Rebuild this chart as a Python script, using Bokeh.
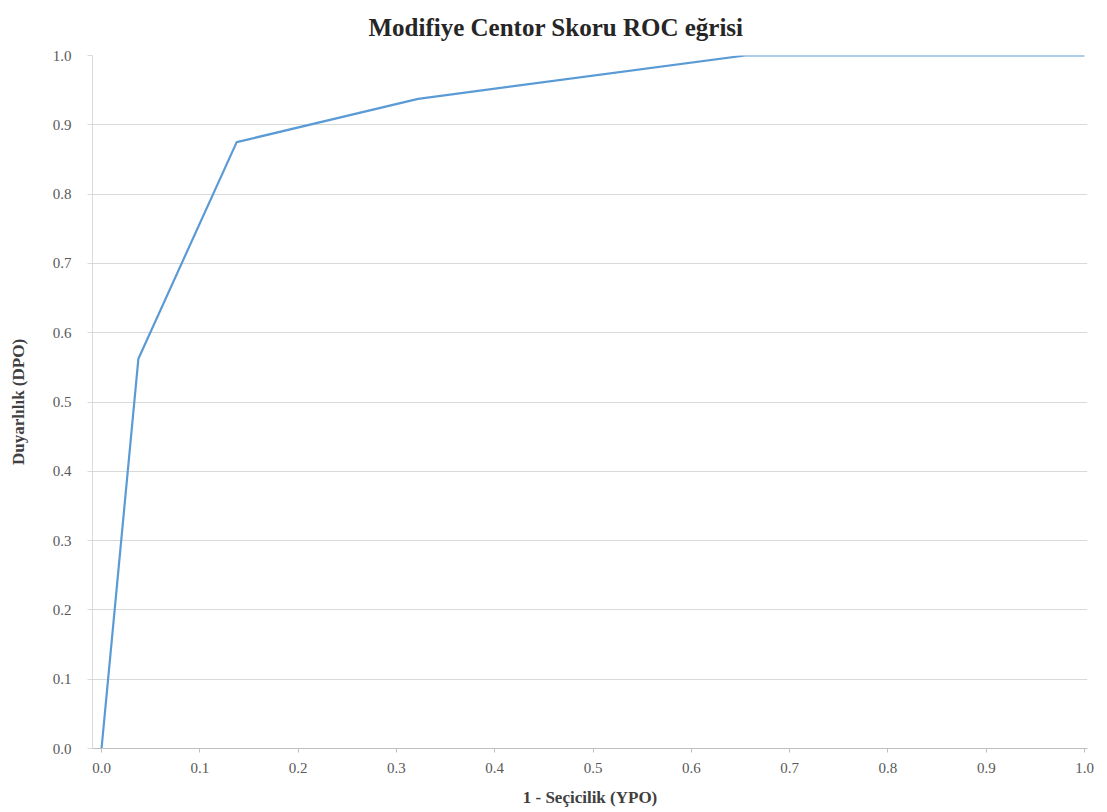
from bokeh.plotting import figure
from bokeh.models import Range1d, FixedTicker, NumeralTickFormatter, Title
from bokeh.embed import file_html
from bokeh.resources import INLINE

# ROC curve points: false positive rate (1 - specificity) vs sensitivity
fpr = [0.0, 0.0125, 0.0375, 0.1375, 0.322, 0.655, 1.0]
tpr = [0.0, 0.1875, 0.5625, 0.875, 0.9375, 1.0, 1.0]

x_ticks = [0.0, 0.1, 0.2, 0.3, 0.4, 0.5, 0.6, 0.7, 0.8, 0.9, 1.0]
y_ticks = [0.0, 0.1, 0.2, 0.3, 0.4, 0.5, 0.6, 0.7, 0.8, 0.9, 1.0]

title_text = "Modifiye Centor Skoru ROC eğrisi"
x_label = "1 - Seçicilik (YPO)"
y_label = "Duyarlılık (DPO)"

SERIF = "Liberation Serif"

p = figure(width=1107, height=812, output_backend="svg", toolbar_location=None,
           x_range=Range1d(-0.0092, 1.003), y_range=Range1d(0.0, 1.0),
           min_border_left=92, min_border_right=20, min_border_top=55,
           min_border_bottom=64)
# title centred over the whole canvas rather than the plot frame
p.title = Title(text=title_text, align="left", offset=276, standoff=25,
                vertical_align="top",
                text_font=SERIF, text_font_size="25px", text_font_style="bold",
                text_color="#262626")
p.outline_line_color = None
p.background_fill_color = "white"
p.border_fill_color = "white"

p.line(fpr, tpr, line_color="#5b9bd5", line_width=2.2)

# grid: horizontal lines only
p.xgrid.grid_line_color = None
p.ygrid.grid_line_color = "#d9d9d9"
p.ygrid.grid_line_width = 1

# x axis
p.xaxis.ticker = FixedTicker(ticks=x_ticks)
p.xaxis.formatter = NumeralTickFormatter(format="0.0")
p.xaxis.axis_line_color = "#bfbfbf"
p.xaxis.major_tick_line_color = "#bfbfbf"
p.xaxis.major_tick_out = 4
p.xaxis.major_tick_in = 0
p.xaxis.minor_tick_line_color = None
p.xaxis.major_label_text_font = SERIF
p.xaxis.major_label_text_font_size = "15px"
p.xaxis.major_label_text_color = "#595959"
p.xaxis.major_label_standoff = 10
p.xaxis.axis_label = x_label
p.xaxis.axis_label_text_font = SERIF
p.xaxis.axis_label_text_font_size = "17px"
p.xaxis.axis_label_text_font_style = "bold"
p.xaxis.axis_label_text_color = "#404040"
p.xaxis.axis_label_standoff = 12

# y axis
p.yaxis.ticker = FixedTicker(ticks=y_ticks)
p.yaxis.formatter = NumeralTickFormatter(format="0.0")
p.yaxis.axis_line_color = "#d9d9d9"
p.yaxis.major_tick_line_color = "#d9d9d9"
p.yaxis.major_tick_out = 5
p.yaxis.major_tick_in = 0
p.yaxis.minor_tick_line_color = None
p.yaxis.major_label_text_font = SERIF
p.yaxis.major_label_text_font_size = "15px"
p.yaxis.major_label_text_color = "#595959"
p.yaxis.major_label_standoff = 16
p.yaxis.axis_label = y_label
p.yaxis.axis_label_text_font = SERIF
p.yaxis.axis_label_text_font_size = "17px"
p.yaxis.axis_label_text_font_style = "bold"
p.yaxis.axis_label_text_color = "#404040"
p.yaxis.axis_label_standoff = 22

open("out.html", "w").write(file_html(p, INLINE))
